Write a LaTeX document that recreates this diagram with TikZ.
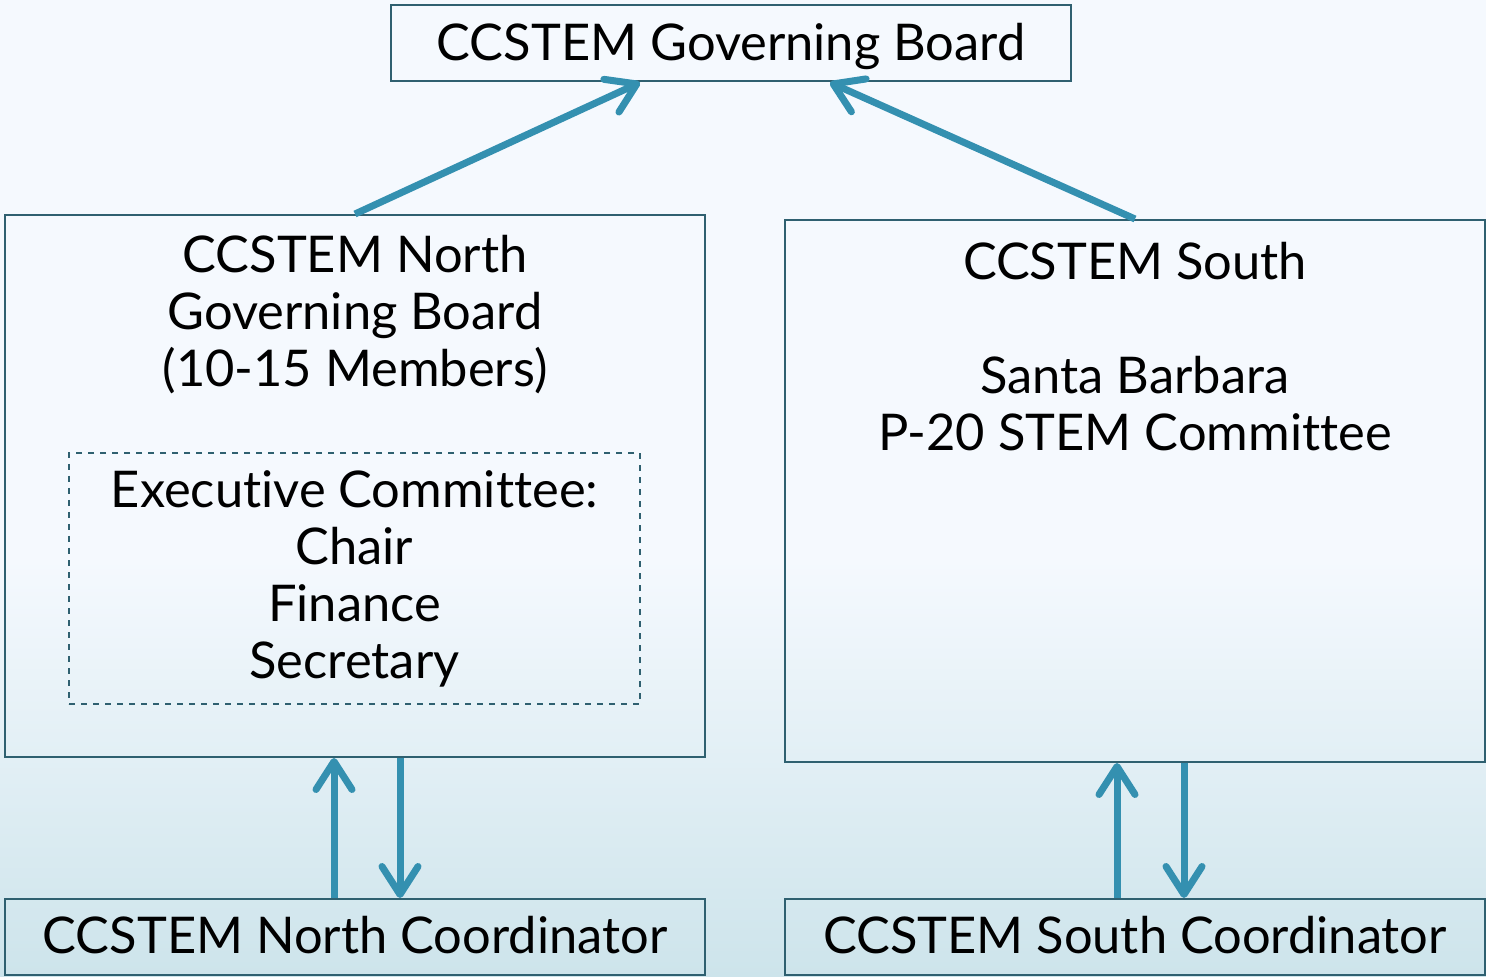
\documentclass[tikz,border=0pt]{standalone}
\usepackage{fontspec}
\setmainfont{Lato}[Ligatures={NoCommon}]
\usetikzlibrary{arrows.meta}
\definecolor{bgtop}{RGB}{245,249,254}
\definecolor{bgbot}{RGB}{205,228,235}
\definecolor{edge}{RGB}{47,96,112}
\definecolor{arrowblue}{RGB}{52,144,176}
\tikzstyle{board} = [rectangle, draw=edge, line width=1pt, minimum height=38pt, inner sep=0pt, text centered, text depth=2pt, font=\fontsize{25.3}{28.5}\selectfont]
\tikzstyle{bigbox} = [rectangle, draw=edge, line width=1pt, minimum width=350pt, minimum height=271pt]
\tikzstyle{txt} = [align=center, inner sep=0pt, font=\fontsize{25.3}{28.5}\selectfont]
\tikzstyle{execbox} = [rectangle, draw=edge, dashed, line width=0.8pt, minimum width=285.5pt, minimum height=125.5pt, align=center, inner sep=0pt, font=\fontsize{25.3}{28.5}\selectfont]
\tikzstyle{arrow} = [line width=3.5pt, draw=arrowblue, -{Straight Barb[length=14pt,width=18pt,round]}]

\begin{document}
\begin{tikzpicture}[x=0.5pt,y=-0.5pt]
\fill [bgtop] (0,0) rectangle (1486,560);
\shade [top color=bgtop, bottom color=bgbot] (0,559) rectangle (1486,977);
\useasboundingbox (0,0) rectangle (1486,977);

\node (top) [board, minimum width=340pt] at (731,43.5) {CCSTEM Governing Board};
\node (north) [bigbox] at (355,486) {};
\node (northtxt) [txt] at (355,315) {CCSTEM North\\Governing Board\\(10-15 Members)};
\node (exec) [execbox] at (354.5,578.5) {Executive Committee:\\Chair\\Finance\\Secretary};
\node (south) [bigbox] at (1135,491) {};
\node (southtxt) [txt] at (1135,347) {CCSTEM South\\[28.5pt]Santa Barbara\\P-20 STEM Committee};
\node (ncoord) [board, minimum width=350pt] at (355,937) {CCSTEM North Coordinator};
\node (scoord) [board, minimum width=350pt] at (1135,937) {CCSTEM South Coordinator};

\draw [arrow] (north.north) -- ([xshift=-45.5pt]top.south);
\draw [arrow] (south.north) -- ([xshift=49.5pt]top.south);
\draw [arrow] ([xshift=-10.5pt]ncoord.north) -- ([xshift=-10.5pt]north.south);
\draw [arrow] ([xshift=22.5pt]north.south) -- ([xshift=22.5pt]ncoord.north);
\draw [arrow] ([xshift=-9pt]scoord.north) -- ([xshift=-9pt]south.south);
\draw [arrow] ([xshift=24.5pt]south.south) -- ([xshift=24.5pt]scoord.north);

\end{tikzpicture}
\end{document}
